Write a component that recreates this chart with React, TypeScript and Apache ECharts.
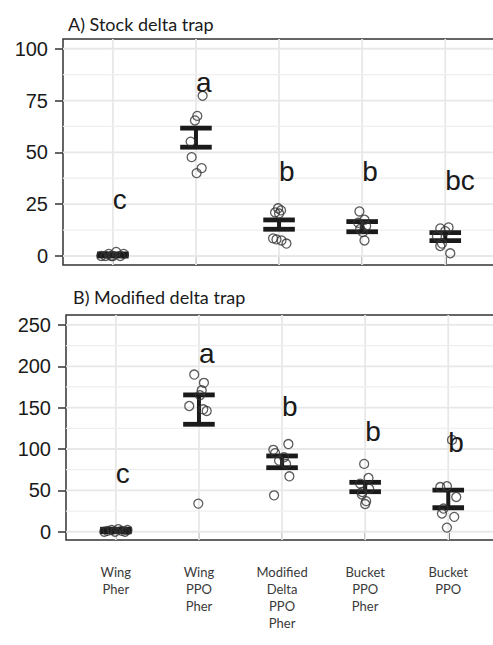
import React, { useEffect, useRef } from "react";
import * as echarts from "echarts";

// ---- data ----
const categories = [
  "Wing\nPher",
  "Wing\nPPO\nPher",
  "Modified\nDelta\nPPO\nPher",
  "Bucket\nPPO\nPher",
  "Bucket\nPPO",
];
const catPositions = [1, 2, 3, 4, 5];
const yTicksA = [0, 25, 50, 75, 100];
const yMinorA = [12.5, 37.5, 62.5, 87.5];
const yTicksB = [0, 50, 100, 150, 200, 250];
const yMinorB = [25, 75, 125, 175, 225];

// Panel A: stock delta trap
const stockValues = [
  [0, 0, 1, 0, 2, 0, 1, 0],
  [77.3, 67.6, 65.4, 55.2, 47.7, 42.4, 40],
  [23, 22, 21, 20.5, 8.5, 8, 7.5, 6],
  [21.5, 17.5, 16, 14.5, 13, 11.5, 7.5],
  [13.8, 13.3, 12, 9.5, 6, 4.8, 1.3],
];
const stockJitter = [
  [-0.14, -0.09, -0.05, 0, 0.04, 0.09, 0.13, -0.02],
  [0.08, 0.016, -0.012, -0.064, -0.052, 0.069, 0.008],
  [-0.012, 0.024, -0.048, 0, -0.072, -0.031, 0.029, 0.089],
  [-0.033, 0.028, -0.048, 0.048, -0.024, 0.008, 0.028],
  [0.04, -0.06, 0, -0.1, -0.04, -0.06, 0.06],
];
const stockLow = [0, 52.5, 12.9, 11.7, 7.4];
const stockHigh = [1, 61.7, 17.4, 16.6, 11.3];
const stockLetters = ["c", "a", "b", "b", "bc"];
const stockLetterY = [27.4, 83.6, 41, 41, 36.2];

// Panel B: modified delta trap
const modValues = [
  [0, 1, 2, 0, 3, 1, 0, 2],
  [190, 180, 171, 165, 152, 148, 146, 34],
  [106, 99, 95, 90, 86, 82, 67, 44],
  [82, 65, 58, 52, 48, 45, 37, 33.5],
  [111, 55, 54, 42, 28, 22, 18, 5],
];
const modJitter = [
  [-0.14, -0.1, -0.05, -0.01, 0.03, 0.07, 0.11, 0.14],
  [-0.057, 0.06, 0.033, 0.012, -0.117, 0.052, 0.093, -0.008],
  [0.076, -0.105, -0.084, 0.024, -0.036, 0.048, 0.088, -0.096],
  [-0.012, 0.04, -0.06, 0.048, -0.036, -0.04, 0.012, 0],
  [0.045, -0.016, -0.096, 0.096, -0.057, -0.076, 0.072, -0.016],
];
const modLow = [0, 129.9, 77.4, 48.4, 29];
const modHigh = [3, 165.4, 91.6, 59.7, 50.4];
const modLetters = ["c", "a", "b", "b", "b"];
const modLetterY = [69.8, 215, 151.6, 121.3, 107.3];

const titles = ["A) Stock delta trap", "B) Modified delta trap"];

// ---- styles ----
const DARK = "#1a1a1a";
const FRAME = "#333333";
const CAP = 0.19;
const X_MIN = 0.4;
const X_MAX = 5.6;
const PX_PER_CAT = 83.1;

function pointData(values: number[][], jitter: number[][]) {
  const out: number[][] = [];
  values.forEach((vals, i) =>
    vals.forEach((v, j) => out.push([catPositions[i] + jitter[i][j], v]))
  );
  return out;
}

function gridData(major: number[], minor: number[]) {
  return [
    ...catPositions.map((c) => [0, c]),
    ...major.map((v) => [1, v]),
    ...minor.map((v) => [2, v]),
  ];
}

function gridLineSeries(idx: number, major: number[], minor: number[]) {
  return {
    type: "custom",
    xAxisIndex: idx,
    yAxisIndex: idx,
    z: 1,
    silent: true,
    data: gridData(major, minor),
    renderItem: (params: any, api: any) => {
      const cs = params.coordSys;
      const kind = api.value(0);
      const v = api.value(1);
      if (kind === 0) {
        const p = api.coord([v, 0]);
        return {
          type: "line",
          shape: { x1: p[0], y1: cs.y, x2: p[0], y2: cs.y + cs.height },
          style: { stroke: "#e8e8e8", lineWidth: 1.8 },
        };
      }
      const p = api.coord([1, v]);
      return {
        type: "line",
        shape: { x1: cs.x, y1: p[1], x2: cs.x + cs.width, y2: p[1] },
        style: {
          stroke: kind === 1 ? "#e8e8e8" : "#efefef",
          lineWidth: kind === 1 ? 1.8 : 1.3,
        },
      };
    },
  };
}

function errorSeries(idx: number, low: number[], high: number[]) {
  return {
    type: "custom",
    xAxisIndex: idx,
    yAxisIndex: idx,
    z: 3,
    silent: true,
    data: catPositions.map((c, i) => [c, low[i], high[i]]),
    renderItem: (params: any, api: any) => {
      const x = api.value(0);
      const lo = api.value(1);
      const hi = api.value(2);
      const pLo = api.coord([x, lo]);
      const pHi = api.coord([x, hi]);
      const l = api.coord([x - CAP, lo])[0];
      const r = api.coord([x + CAP, lo])[0];
      return {
        type: "group",
        children: [
          {
            type: "line",
            shape: { x1: pLo[0], y1: pLo[1], x2: pHi[0], y2: pHi[1] },
            style: { stroke: DARK, lineWidth: 4 },
          },
          {
            type: "line",
            shape: { x1: l, y1: pLo[1], x2: r, y2: pLo[1] },
            style: { stroke: DARK, lineWidth: 4.8 },
          },
          {
            type: "line",
            shape: { x1: l, y1: pHi[1], x2: r, y2: pHi[1] },
            style: { stroke: DARK, lineWidth: 4.8 },
          },
        ],
      };
    },
  };
}

function pointSeries(idx: number, values: number[][], jitter: number[][]) {
  return {
    type: "scatter",
    xAxisIndex: idx,
    yAxisIndex: idx,
    z: 4,
    symbol: "circle",
    symbolSize: 9,
    silent: true,
    itemStyle: { color: "rgba(0,0,0,0)", borderColor: "#333", borderWidth: 1.3 },
    data: pointData(values, jitter),
  };
}

function letterSeries(idx: number, letters: string[], ys: number[]) {
  return {
    type: "custom",
    xAxisIndex: idx,
    yAxisIndex: idx,
    z: 5,
    silent: true,
    data: catPositions.map((c, i) => [c, ys[i]]),
    renderItem: (params: any, api: any) => {
      const p = api.coord([api.value(0), api.value(1)]);
      return {
        type: "text",
        x: p[0],
        y: p[1],
        style: {
          text: letters[params.dataIndex],
          fontFamily: "Liberation Sans, Arial, sans-serif",
          fontSize: 28,
          fill: DARK,
          align: "left",
          verticalAlign: "middle",
        },
      };
    },
  };
}

function xAxisCfg(idx: number, showLabels: boolean) {
  return {
    gridIndex: idx,
    type: "value",
    min: X_MIN,
    max: X_MAX,
    axisLine: { show: false },
    splitLine: { show: false },
    axisTick: {
      show: true,
      customValues: catPositions,
      length: 8,
      lineStyle: { color: FRAME, width: 1.5 },
    },
    axisLabel: {
      show: showLabels,
      customValues: catPositions,
      formatter: (v: number) => categories[Math.round(v) - 1] || "",
      margin: 23,
      fontFamily: "Lato, sans-serif",
      fontSize: 13,
      lineHeight: 17,
      color: "#3a3a3a",
      align: "center",
    },
  };
}

function yAxisCfg(idx: number, min: number, max: number, ticks: number[]) {
  return {
    gridIndex: idx,
    type: "value",
    min,
    max,
    axisLine: { show: false },
    splitLine: { show: false },
    axisTick: {
      show: true,
      customValues: ticks,
      length: 8,
      lineStyle: { color: FRAME, width: 1.5 },
    },
    axisLabel: {
      customValues: ticks,
      margin: 15,
      fontFamily: "Liberation Sans, Arial, sans-serif",
      fontSize: 20,
      color: DARK,
    },
  };
}

export default function App() {
  const ref = useRef<HTMLDivElement>(null);
  useEffect(() => {
    document.body.style.margin = "0";
    if (!ref.current) return;
    const chart = echarts.init(ref.current, undefined, { renderer: "svg" });
    const gridStyle = {
      show: true,
      borderColor: FRAME,
      borderWidth: 1.5,
      backgroundColor: "rgba(0,0,0,0)",
      containLabel: false,
    };
    const gridWidth = (X_MAX - X_MIN) * PX_PER_CAT;
    chart.setOption({
      animation: false,
      backgroundColor: "#ffffff",
      grid: [
        { ...gridStyle, left: 63, top: 39, width: gridWidth, height: 226 },
        { ...gridStyle, left: 66, top: 315, width: gridWidth, height: 225 },
      ],
      xAxis: [xAxisCfg(0, false), xAxisCfg(1, true)],
      yAxis: [
        yAxisCfg(0, -4.35, 104.7, yTicksA),
        yAxisCfg(1, -10, 262, yTicksB),
      ],
      graphic: [
        {
          type: "text",
          left: 68,
          top: 15,
          style: {
            text: titles[0],
            fontFamily: "Lato, sans-serif",
            fontSize: 18,
            fill: DARK,
          },
        },
        {
          type: "text",
          left: 73,
          top: 288,
          style: {
            text: titles[1],
            fontFamily: "Lato, sans-serif",
            fontSize: 18,
            fill: DARK,
          },
        },
      ],
      series: [
        gridLineSeries(0, yTicksA, yMinorA),
        gridLineSeries(1, yTicksB, yMinorB),
        errorSeries(0, stockLow, stockHigh),
        errorSeries(1, modLow, modHigh),
        pointSeries(0, stockValues, stockJitter),
        pointSeries(1, modValues, modJitter),
        letterSeries(0, stockLetters, stockLetterY),
        letterSeries(1, modLetters, modLetterY),
      ],
    });
    return () => chart.dispose();
  }, []);
  // The panels run on past the right edge of the picture, so the chart is
  // drawn a little wider than the 493px frame that shows it.
  return (
    <div style={{ width: 493, height: 645, overflow: "hidden" }}>
      <div ref={ref} style={{ width: 530, height: 645 }} />
    </div>
  );
}
